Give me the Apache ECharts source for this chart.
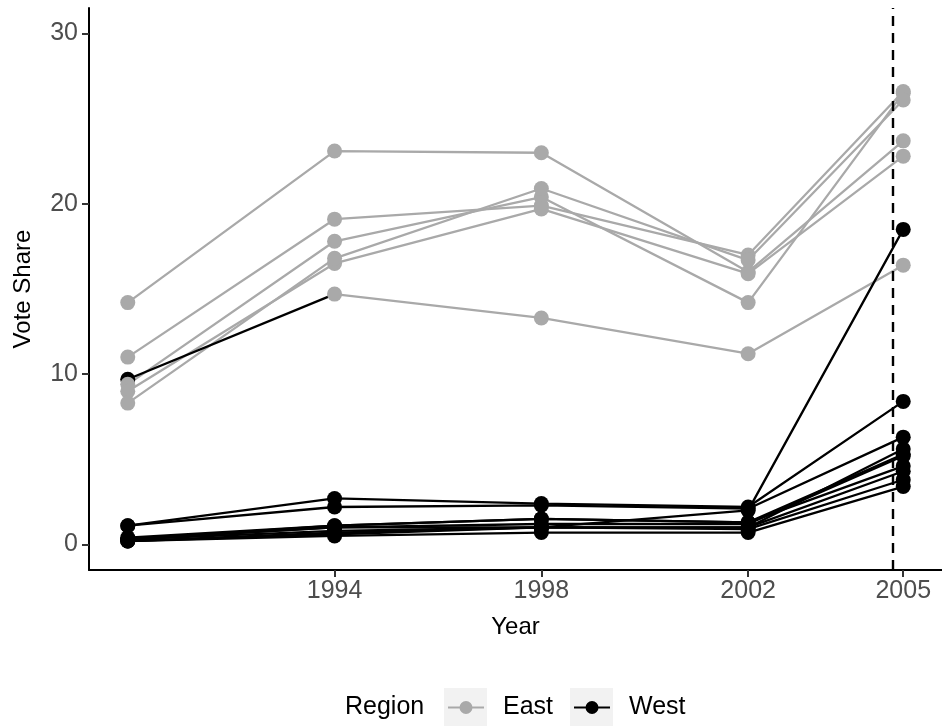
<!DOCTYPE html>
<html>
<head>
<meta charset="utf-8">
<script src="https://cdn.jsdelivr.net/npm/echarts@6/dist/echarts.min.js"></script>
<style>html,body{margin:0;padding:0;background:#fff}#c{width:942px;height:728px}</style>
</head>
<body>
<div id="c"></div>
<script>
// ---- data ----
const years = [1990, 1994, 1998, 2002, 2005];
const xTickLabels = [1994, 1998, 2002, 2005];
const yTickLabels = [0, 10, 20, 30];
const markerYear = 2004.8;
const regionNames = ['East', 'West'];

// East
const mecklenburgVorpommern = [14.2, 23.1, 23.0, 16.0, 23.7];
const brandenburg           = [11.0, 19.1, 19.9, 17.0, 26.6];
const sachsenAnhalt         = [9.4, 17.8, 20.4, 14.2, 26.5];
const sachsen               = [9.0, 16.5, 19.7, 15.9, 22.8];
const thueringen            = [8.3, 16.8, 20.9, 16.7, 26.1];
const berlin                = [9.7, 14.7, 13.3, 11.2, 16.4];
// West
const schleswigHolstein     = [0.3, 1.1, 1.5, 1.3, 4.6];
const hamburg               = [1.1, 2.2, 2.3, 2.1, 6.3];
const niedersachsen         = [0.3, 1.0, 1.0, 1.0, 4.3];
const bremen                = [1.1, 2.7, 2.4, 2.2, 8.4];
const nordrheinWestfalen    = [0.3, 1.0, 1.2, 1.2, 5.2];
const hessen                = [0.4, 1.1, 1.5, 1.3, 5.3];
const rheinlandPfalz        = [0.2, 0.6, 1.0, 1.0, 5.6];
const badenWuerttemberg     = [0.3, 0.8, 1.0, 0.9, 3.8];
const bayern                = [0.2, 0.5, 0.7, 0.7, 3.4];
const saarland              = [0.2, 0.7, 1.0, 2.0, 18.5];

// region of each observation
const allEast     = ['East', 'East', 'East', 'East', 'East'];
const allWest     = ['West', 'West', 'West', 'West', 'West'];
const berlinRegion = ['West', 'East', 'East', 'East', 'East'];

const units = [
  [mecklenburgVorpommern, allEast],
  [brandenburg, allEast],
  [sachsenAnhalt, allEast],
  [sachsen, allEast],
  [thueringen, allEast],
  [berlin, berlinRegion],
  [schleswigHolstein, allWest],
  [hamburg, allWest],
  [niedersachsen, allWest],
  [bremen, allWest],
  [nordrheinWestfalen, allWest],
  [hessen, allWest],
  [rheinlandPfalz, allWest],
  [badenWuerttemberg, allWest],
  [bayern, allWest],
  [saarland, allWest]
];

// ---- styling ----
const colors = { East: '#A9A9A9', West: '#000000' };
const FONT = '"Liberation Sans", Arial, Helvetica, sans-serif';

const series = [];
// lines: segment colour follows the region of its starting point
units.forEach(([vals, reg]) => {
  let start = 0;
  for (let i = 1; i <= vals.length - 1; i++) {
    const endRun = (i === vals.length - 1) || reg[i] !== reg[start];
    if (endRun) {
      const data = [];
      for (let k = start; k <= i; k++) data.push([years[k], vals[k]]);
      series.push({
        type: 'line', name: reg[start], data: data,
        showSymbol: false, symbol: 'none', silent: true, z: 2,
        lineStyle: { color: colors[reg[start]], width: 2.3 },
        itemStyle: { color: colors[reg[start]] }
      });
      start = i;
    }
  }
});
// points
['West', 'East'].forEach(r => {
  const pts = [];
  units.forEach(([vals, reg]) => vals.forEach((v, i) => { if (reg[i] === r) pts.push([years[i], v]); }));
  series.push({
    type: 'scatter', name: r, data: pts, symbol: 'circle', symbolSize: 15,
    itemStyle: { color: colors[r], opacity: 1 }, z: 4, silent: true
  });
});
// dashed reference line
series.push({
  type: 'line', name: 'marker', data: [], silent: true, z: 3,
  markLine: {
    symbol: 'none', silent: true, label: { show: false },
    lineStyle: { type: [10, 7], color: '#000', width: 2.4 },
    data: [{ xAxis: markerYear }]
  }
});

const legendIcon = 'path://M0,5.9L36,5.9L36,8.1L0,8.1Z M11.5,7A6.5,6.5 0 1 1 24.5,7A6.5,6.5 0 1 1 11.5,7Z';

const chart = echarts.init(document.getElementById('c'), null, { renderer: 'canvas' });
chart.setOption({
  animation: false,
  backgroundColor: '#ffffff',
  grid: { left: 89, top: 8, width: 853, height: 562, containLabel: false },
  xAxis: {
    type: 'value', min: 1989.25, max: 2005.75,
    splitLine: { show: false },
    axisLine: { onZero: false, lineStyle: { color: '#000', width: 2 } },
    axisTick: { customValues: xTickLabels, length: 7, lineStyle: { color: '#333', width: 2 } },
    axisLabel: { customValues: xTickLabels, formatter: v => String(v), color: '#4D4D4D', fontSize: 25, fontFamily: FONT, margin: 9 },
    name: 'Year', nameLocation: 'middle', nameGap: 45,
    nameTextStyle: { fontSize: 24, color: '#000', fontFamily: FONT }
  },
  yAxis: {
    type: 'value', min: -1.5, max: 31.5,
    splitLine: { show: false },
    axisLine: { onZero: false, lineStyle: { color: '#000', width: 2 } },
    axisTick: { customValues: yTickLabels, length: 7, lineStyle: { color: '#333', width: 2 } },
    axisLabel: { customValues: yTickLabels, formatter: v => String(v), color: '#4D4D4D', fontSize: 25, fontFamily: FONT, margin: 11 },
    name: 'Vote Share', nameLocation: 'middle', nameGap: 54, nameRotate: 90,
    nameTextStyle: { fontSize: 24, color: '#000', fontFamily: FONT }
  },
  legend: {
    left: 443, top: 690, padding: 5,
    itemWidth: 36, itemHeight: 14, itemGap: 21,
    icon: legendIcon,
    selectedMode: false,
    textStyle: { fontSize: 25, color: '#000', fontFamily: FONT, padding: [0, 0, 0, 14] },
    data: regionNames.map(r => ({ name: r, icon: legendIcon, itemStyle: { color: colors[r] } }))
  },
  graphic: [
    { type: 'rect', z: 0, shape: { x: 444, y: 688, width: 43, height: 38 }, style: { fill: '#F2F2F2' } },
    { type: 'rect', z: 0, shape: { x: 570, y: 688, width: 43, height: 38 }, style: { fill: '#F2F2F2' } },
    { type: 'text', z: 1, style: { text: 'Region', x: 345, y: 707, verticalAlign: 'middle', font: '25px ' + FONT, fill: '#000' } }
  ],
  series: series
});
</script>
</body>
</html>
